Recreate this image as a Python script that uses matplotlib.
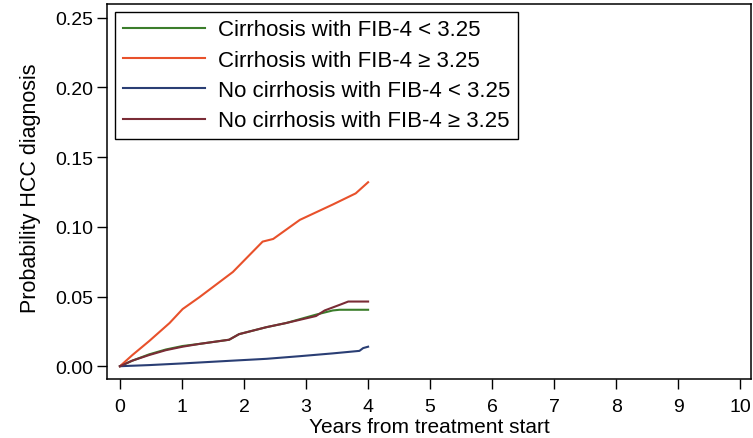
import matplotlib
matplotlib.use("Agg")
import matplotlib.pyplot as plt

plt.rcParams['font.family'] = ['Liberation Sans', 'DejaVu Sans']

# cumulative incidence curves
cirr_low_x = [0, 0.2, 0.47, 0.74, 1.01, 1.28, 1.76, 1.92, 2.36, 2.68, 3.16, 3.43, 3.54, 4.0]
cirr_low_y = [0, 0.004, 0.0085, 0.012, 0.0145, 0.016, 0.019, 0.023, 0.028, 0.031, 0.037, 0.040, 0.0405, 0.0405]

cirr_high_x = [0, 0.2, 0.47, 0.80, 1.01, 1.28, 1.82, 2.30, 2.47, 2.90, 3.43, 3.80, 4.0]
cirr_high_y = [0, 0.008, 0.018, 0.031, 0.041, 0.0495, 0.0676, 0.0894, 0.0913, 0.105, 0.116, 0.124, 0.132]

nocirr_low_x = [0, 0.47, 1.01, 1.82, 2.36, 2.90, 3.43, 3.86, 3.92, 4.0]
nocirr_low_y = [0, 0.0008, 0.002, 0.004, 0.0053, 0.0072, 0.0092, 0.011, 0.013, 0.014]

nocirr_high_x = [0, 0.2, 0.47, 0.74, 1.01, 1.28, 1.76, 1.92, 2.36, 2.68, 3.16, 3.30, 3.54, 3.68, 4.0]
nocirr_high_y = [0, 0.004, 0.008, 0.0115, 0.014, 0.016, 0.019, 0.023, 0.028, 0.031, 0.036, 0.040, 0.044, 0.0464, 0.0464]

labels = ["Cirrhosis with FIB-4 < 3.25", "Cirrhosis with FIB-4 \u2265 3.25",
          "No cirrhosis with FIB-4 < 3.25", "No cirrhosis with FIB-4 \u2265 3.25"]
colors = ["#3b7d2b", "#e8512b", "#2a3e74", "#7a2c36"]

fig = plt.figure(figsize=(7.53, 4.39), dpi=100)
ax = fig.add_axes([0.142, 0.134, 0.856, 0.855])

series = [(cirr_low_x, cirr_low_y), (cirr_high_x, cirr_high_y),
          (nocirr_low_x, nocirr_low_y), (nocirr_high_x, nocirr_high_y)]
for (xs, ys), lab, c in zip(series, labels, colors):
    ax.plot(xs, ys, color=c, lw=1.5, label=lab)

ax.set_xlim(-0.21, 10.18)
ax.set_ylim(-0.0093, 0.26)
ax.set_xticks(range(0, 11))
ax.set_yticks([0, 0.05, 0.10, 0.15, 0.20, 0.25])
ax.set_yticklabels(["0.00", "0.05", "0.10", "0.15", "0.20", "0.25"])
ax.tick_params(axis='x', labelsize=14, length=7, width=1, direction='out', pad=6.5)
ax.tick_params(axis='y', labelsize=14, length=7, width=1, direction='out', pad=2.5)
for s in ax.spines.values():
    s.set_linewidth(1.1)

ax.set_xlabel("Years from treatment start", fontsize=15)
ax.set_ylabel("Probability HCC diagnosis", fontsize=15.5)
ax.xaxis.set_label_coords(0.5, -0.1)
ax.yaxis.set_label_coords(-0.102, 0.51)

leg = ax.legend(loc='upper left', bbox_to_anchor=(0.0124, 0.979), borderaxespad=0,
                fontsize=16, handlelength=3.7, labelspacing=0.42, fancybox=False,
                edgecolor='black', framealpha=1, borderpad=0.35, handletextpad=0.6)
leg.get_frame().set_linewidth(1.0)

fig.savefig("out.png", dpi=100)
